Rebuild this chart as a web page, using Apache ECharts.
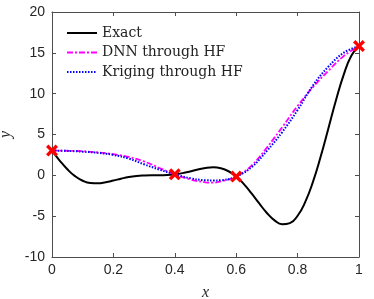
<!DOCTYPE html>
<html>
<head>
<meta charset="utf-8">
<script src="https://cdn.jsdelivr.net/npm/echarts@6/dist/echarts.min.js"></script>
<style>html,body{margin:0;padding:0;background:#fff}#c{width:374px;height:299px}</style>
</head>
<body>
<div id="c"></div>
<script>
// Exact curve samples
const exactX = [0,0.025,0.05,0.075,0.1,0.125,0.15,0.175,0.2,0.225,0.25,0.275,0.3,0.325,0.35,0.375,0.4,0.425,0.45,0.475,0.5,0.525,0.55,0.575,0.6,0.625,0.65,0.675,0.7,0.725,0.75,0.775,0.8,0.825,0.85,0.875,0.9,0.925,0.95,0.975,1];
const exactY = [3.03,1.81,0.74,-0.10,-0.66,-0.94,-0.98,-0.85,-0.64,-0.41,-0.21,-0.08,-0.02,0.0,0.0,0.03,0.12,0.27,0.48,0.72,0.91,0.99,0.87,0.50,-0.15,-1.07,-2.21,-3.44,-4.61,-5.52,-5.99,-5.85,-4.95,-3.25,-0.80,2.27,5.71,9.19,12.30,14.65,15.83];
// Surrogate curves
const surX = [0,0.05,0.1,0.15,0.2,0.25,0.3,0.35,0.4,0.45,0.5,0.525,0.55,0.6,0.65,0.7,0.75,0.8,0.85,0.9,0.95,1];
const dnnY = [3.03,3.0,2.95,2.8,2.6,2.25,1.7,0.9,0.12,-0.5,-0.85,-0.9,-0.75,-0.15,1.2,3.4,5.9,8.5,10.8,12.8,14.6,15.83];
const krigY = [3.03,3.0,2.9,2.75,2.5,2.05,1.35,0.7,0.12,-0.35,-0.6,-0.62,-0.6,-0.15,1.0,3.0,5.3,8.0,11.0,13.3,15.0,15.83];
// High-fidelity sample points
const hfX = [0,0.4,0.6,1];
const hfY = [3.03,0.12,-0.15,15.83];
const xTicks = [0,0.2,0.4,0.6,0.8,1];
const yTicks = [-10,-5,0,5,10,15,20];

const pairs = (xs, ys) => xs.map((x, i) => [x, ys[i]]);
const axisCol = '#4d4d4d';
const tickFont = {fontFamily: 'Liberation Sans, Arial, sans-serif', fontSize: 14, color: '#262626'};
const crossPath = 'path://M2,0L5,3L8,0L10,2L7,5L10,8L8,10L5,7L2,10L0,8L3,5L0,2Z';

const chart = echarts.init(document.getElementById('c'), null, {renderer: 'canvas'});
chart.setOption({
  animation: false,
  backgroundColor: '#fff',
  grid: {left: 52, right: 15, top: 12, bottom: 42, containLabel: false, outerBoundsMode: 'none'},
  legend: {
    left: 66, top: 26, orient: 'vertical', padding: 0,
    itemWidth: 30, itemHeight: 14, itemGap: 5.5,
    itemStyle: {opacity: 0},
    textStyle: {fontFamily: 'DejaVu Serif, Liberation Serif, serif', fontSize: 14, color: '#222'},
    data: ['Exact', 'DNN through HF', 'Kriging through HF']
  },
  xAxis: [{
    type: 'value', min: 0, max: 1, interval: 0.2,
    name: 'x', nameLocation: 'middle', nameGap: 28,
    nameTextStyle: {fontFamily: 'Liberation Serif, DejaVu Serif, serif', fontStyle: 'italic', fontSize: 16, color: '#262626'},
    axisLine: {show: true, onZero: false, lineStyle: {color: axisCol, width: 1}},
    axisTick: {show: true, inside: true, length: 4, lineStyle: {color: axisCol}},
    axisLabel: Object.assign({margin: 6, formatter: v => xTicks.includes(+v.toFixed(1)) ? String(+v.toFixed(1)) : ''}, tickFont),
    splitLine: {show: false}
  }, {
    type: 'value', min: 0, max: 1, interval: 0.2, position: 'top',
    axisLine: {show: true, onZero: false, lineStyle: {color: axisCol, width: 1}},
    axisTick: {show: true, inside: true, length: 4, lineStyle: {color: axisCol}},
    axisLabel: {show: false}, splitLine: {show: false}
  }],
  yAxis: [{
    type: 'value', min: -10, max: 20, interval: 5,
    name: 'y', nameLocation: 'middle', nameGap: 28, nameRotate: 90,
    nameTextStyle: {fontFamily: 'Liberation Serif, DejaVu Serif, serif', fontStyle: 'italic', fontSize: 16, color: '#262626'},
    axisLine: {show: true, onZero: false, lineStyle: {color: axisCol, width: 1}},
    axisTick: {show: true, inside: true, length: 4, lineStyle: {color: axisCol}},
    axisLabel: Object.assign({margin: 7, formatter: v => yTicks.includes(v) ? String(v) : ''}, tickFont),
    splitLine: {show: false}
  }, {
    type: 'value', min: -10, max: 20, interval: 5, position: 'right',
    axisLine: {show: true, onZero: false, lineStyle: {color: axisCol, width: 1}},
    axisTick: {show: true, inside: true, length: 4, lineStyle: {color: axisCol}},
    axisLabel: {show: false}, splitLine: {show: false}
  }],
  series: [{
    name: 'Exact', type: 'line', smooth: true, showSymbol: false,
    data: pairs(exactX, exactY),
    lineStyle: {color: '#000', width: 2}, itemStyle: {color: '#000'}, z: 3
  }, {
    name: 'DNN through HF', type: 'line', smooth: 0.4, showSymbol: false,
    data: pairs(surX, dnnY),
    lineStyle: {color: '#ff00ff', width: 1.8, type: [6, 2, 2, 2]}, itemStyle: {color: '#ff00ff'}, z: 4
  }, {
    name: 'Kriging through HF', type: 'line', smooth: 0.4, showSymbol: false,
    data: pairs(surX, krigY),
    lineStyle: {color: '#0000ff', width: 2, type: [1.5, 1.5]}, itemStyle: {color: '#0000ff'}, z: 4
  }, {
    name: 'HF', type: 'scatter', symbol: crossPath, symbolSize: 12,
    data: pairs(hfX, hfY),
    itemStyle: {color: '#ff0000', opacity: 1}, z: 6
  }]
});
</script>
</body>
</html>
